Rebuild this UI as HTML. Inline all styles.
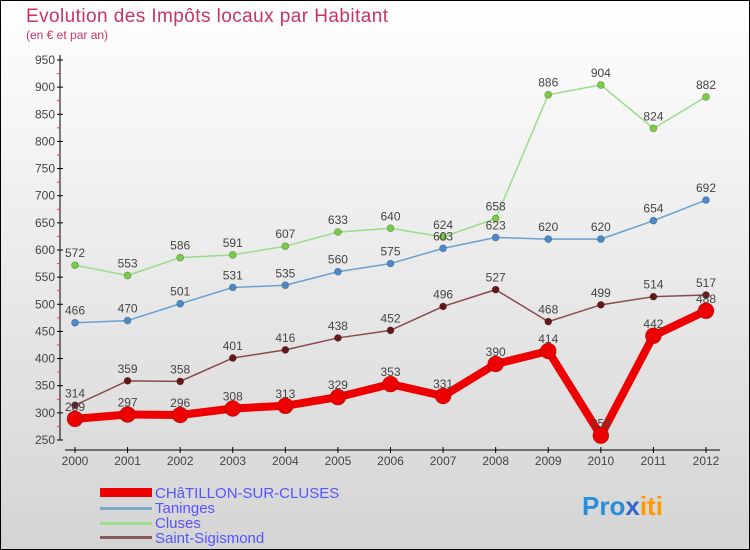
<!DOCTYPE html>
<html><head><meta charset="utf-8"><style>
body{margin:0}
svg{display:block;font-family:"Liberation Sans",sans-serif}
</style></head><body>
<svg id="c" width="750" height="550" xmlns="http://www.w3.org/2000/svg">
<defs><linearGradient id="bg" x1="0" y1="0" x2="0" y2="1"><stop offset="0" stop-color="#ffffff"/><stop offset="1" stop-color="#d4d4d4"/></linearGradient></defs>
<rect x="0.5" y="0.5" width="749" height="549" fill="url(#bg)" stroke="#000"/>
<text x="26" y="22" font-size="19" textLength="362" fill="#c8336a">Evolution des Impôts locaux par Habitant</text>
<text x="26" y="39" font-size="12" fill="#c8336a">(en € et par an)</text>
<g id="axes"></g>
<g id="series"></g>
<g id="legend">
<rect x="100" y="488" width="52" height="9" fill="#ee0000"/>
<text x="155" y="498" font-size="15" fill="#5555ff">CHâTILLON-SUR-CLUSES</text>
<rect x="100" y="507" width="52" height="3" fill="#7aa8cc"/>
<text x="155" y="513" font-size="15" fill="#5555ff">Taninges</text>
<rect x="100" y="522" width="52" height="3" fill="#99dd88"/>
<text x="155" y="528" font-size="15" fill="#5555ff">Cluses</text>
<rect x="100" y="536" width="52" height="3" fill="#8a5a5a"/>
<text x="155" y="543" font-size="15" fill="#5555ff">Saint-Sigismond</text>
</g>
<text x="582" y="515" font-size="26" font-weight="bold" fill="#ff9900"><tspan fill="#2a8fd8">Pro</tspan><tspan fill="#3366cc">x</tspan><tspan fill="#ff9900">iti</tspan></text>
</svg>
<script>
const years=[2000,2001,2002,2003,2004,2005,2006,2007,2008,2009,2010,2011,2012];
const yTicks=[250,300,350,400,450,500,550,600,650,700,750,800,850,900,950];
const chatillon=[289,297,296,308,313,329,353,331,390,414,258,442,488];
const taninges=[466,470,501,531,535,560,575,603,623,620,620,654,692];
const cluses=[572,553,586,591,607,633,640,624,658,886,904,824,882];
const sigismond=[314,359,358,401,416,438,452,496,527,468,499,514,517];
const NS="http://www.w3.org/2000/svg";
const xs=i=>75+i*(706-75)/12;
const ys=v=>440-(v-250)*(380/700);
function mk(t,a,p){const e=document.createElementNS(NS,t);for(const k in a)e.setAttribute(k,a[k]);p.appendChild(e);return e;}
const ax=document.getElementById('axes');
let l=mk('line',{x1:60,y1:55,x2:60,y2:440,stroke:'#000'},ax);


l=mk('line',{x1:65,y1:450,x2:720,y2:450,stroke:'#000'},ax);


yTicks.forEach((v,i)=>{const y=ys(v);mk('line',{x1:57,y1:y,x2:63,y2:y,stroke:'#000'},ax);
if(i<yTicks.length-1)mk('line',{x1:57,y1:ys(v+25),x2:60,y2:ys(v+25),stroke:'#f33'},ax);
const t=mk('text',{x:55,y:y+4,'font-size':12,fill:'#444','text-anchor':'end'},ax);t.textContent=v;

});
years.forEach((yr,i)=>{const x=xs(i);mk('line',{x1:x,y1:447,x2:x,y2:453,stroke:'#000'},ax);
const t=mk('text',{x:x,y:465,'font-size':12,fill:'#444','text-anchor':'middle'},ax);t.textContent=yr;

});
const sg=document.getElementById('series');
function series(d,name,col,w,r,dot){
const g=mk('g',{},sg);


mk('polyline',{points:d.map((v,i)=>xs(i)+','+ys(v)).join(' '),fill:'none',stroke:col,'stroke-width':w,'stroke-linejoin':'round'},g);
d.forEach((v,i)=>{const c=mk('circle',{cx:xs(i),cy:ys(v),r:r,fill:dot,stroke:'rgba(0,0,0,0.3)','stroke-width':0.7},g);


const t=mk('text',{x:xs(i),y:ys(v)-8,'font-size':12,fill:'#444','text-anchor':'middle'},g);t.textContent=v;

});}
series(cluses,'cluses','#99dd88',1.5,3.5,'#77cc44');
series(taninges,'taninges','#6aa0d0',1.5,3.5,'#4a8ac8');
series(sigismond,'saint-sigismond','#8a4a4a',1.5,3.5,'#661818');
series(chatillon,'chatillon','#ee0000',8,8,'#ee0000');
</script>
</body></html>
